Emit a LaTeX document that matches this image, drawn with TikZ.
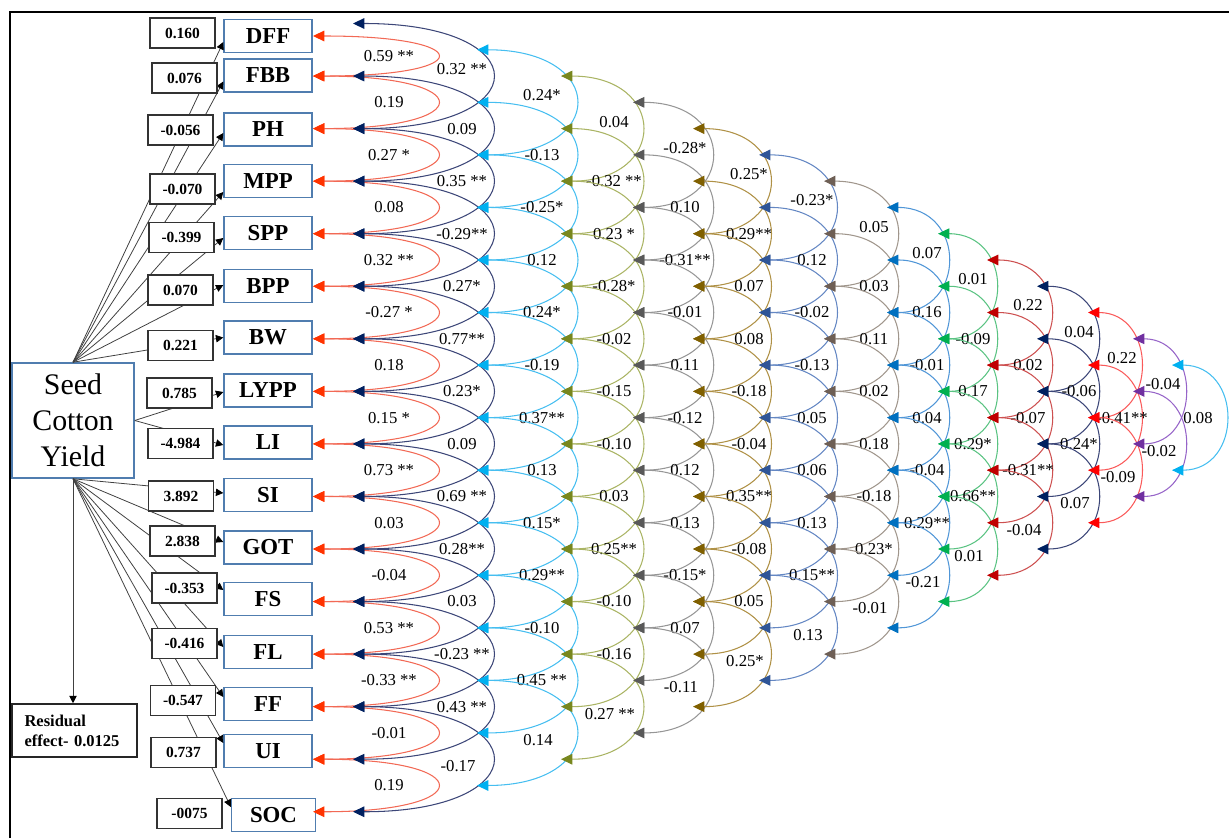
\documentclass[tikz,border=0pt]{standalone}
\usepackage{fontspec}
\setmainfont{Liberation Serif}
\usetikzlibrary{arrows.meta,calc}
\definecolor{boxblue}{RGB}{80,125,175}
\definecolor{L1}{RGB}{242,105,85}   \definecolor{T1}{RGB}{255,51,0}
\definecolor{L2}{RGB}{60,70,120}    \definecolor{T2}{RGB}{0,32,96}
\definecolor{L3}{RGB}{70,190,240}   \definecolor{T3}{RGB}{0,176,240}
\definecolor{L4}{RGB}{170,180,100}  \definecolor{T4}{RGB}{120,135,30}
\definecolor{L5}{RGB}{150,150,150}  \definecolor{T5}{RGB}{89,89,89}
\definecolor{L6}{RGB}{175,145,70}   \definecolor{T6}{RGB}{128,96,0}
\definecolor{L7}{RGB}{100,135,195}  \definecolor{T7}{RGB}{47,85,151}
\definecolor{L8}{RGB}{160,150,140}  \definecolor{T8}{RGB}{110,95,85}
\definecolor{L9}{RGB}{80,150,215}   \definecolor{T9}{RGB}{0,112,192}
\definecolor{L10}{RGB}{90,195,130}  \definecolor{T10}{RGB}{0,176,80}
\definecolor{L11}{RGB}{205,80,80}   \definecolor{T11}{RGB}{192,0,0}
\definecolor{L12}{RGB}{60,70,120}   \definecolor{T12}{RGB}{0,32,96}
\definecolor{L13}{RGB}{250,90,90}   \definecolor{T13}{RGB}{255,0,0}
\definecolor{L14}{RGB}{150,100,200} \definecolor{T14}{RGB}{112,48,160}
\definecolor{L15}{RGB}{70,190,240}  \definecolor{T15}{RGB}{0,176,240}
\tikzset{
  corr/.style={line width=0.6pt},
  lbl/.style={font=\fontsize{9.5}{11}\selectfont, inner sep=0pt},
  varbox/.style={draw=boxblue, line width=0.8pt, fill=white, minimum width=1.76cm,
    minimum height=0.66cm, inner sep=0pt, font=\fontsize{13}{15}\selectfont\bfseries},
  valbox/.style={draw=black!80, line width=0.6pt, fill=white, minimum width=1.3cm,
    minimum height=0.6cm, inner sep=0pt, font=\fontsize{8.8}{10}\selectfont\bfseries},
  link/.style={draw=black!75, line width=0.45pt, -{Triangle[length=4.2pt,width=4.2pt,color=black]}},
}
% #1 lag id, #2 tip x, #3 control offset, #4 label x offset, #5 start t0, #6 last index, #7 labels
\newcommand{\drawlag}[7]{%
  \foreach \lab [count=\jj from 0] in {#7} {%
    \pgfmathsetmacro\ya{23.5+52.55*(#5+\jj)}%
    \pgfmathsetmacro\yb{\ya+105.1}%
    \pgfmathsetmacro\ym{\ya+52.55+ifthenelse(\jj==0,-7,0)+ifthenelse(\jj==#6,7,0)}%
    \pgfmathsetmacro\xm{#2+#4+ifthenelse(\jj==#6,-4,0)}%
    \coordinate (k#1a\jj) at (#2,\ya);
    \coordinate (k#1b\jj) at (#2,\yb);
    \draw[corr,draw=L#1,{Triangle[length=6.4pt,width=6pt,color=T#1]}-{Triangle[length=6.4pt,width=6pt,color=T#1]}]
      (k#1a\jj) .. controls +(#3,0) and +(#3,0) .. (k#1b\jj);
    \node[lbl] (lab#1n\jj) at (\xm,\ym) {\lab};
  }%
}
\begin{document}
\begin{tikzpicture}[x=0.02cm,y=-0.02cm]
\useasboundingbox (0,0) rectangle (1229,838);
\draw[line width=1.4pt] (10,838) -- (10,12) -- (1229,12);

% main boxes
\node[draw=boxblue, line width=0.9pt, fill=white, minimum width=2.44cm, minimum height=2.3cm,
  align=center, inner sep=0pt, font=\fontsize{17}{20.5}\selectfont] (scy) at (73,420.5) {Seed\\Cotton\\Yield};
\node[draw=black!85, line width=0.9pt, fill=white, minimum width=2.5cm, minimum height=1.06cm,
  align=left, inner sep=0pt, text width=2.0cm, font=\fontsize{9.4}{11.3}\selectfont\bfseries]
  (res) at (74.5,730.5) {Residual\\effect- 0.0125};

% variable boxes
\foreach \nm/\yy in {DFF/36, FBB/75.5, PH/129.5, MPP/181, SPP/233, BPP/286, BW/337.5, LYPP/390.5,
  LI/442.5, SI/495, GOT/547.5, FS/599, FL/652, FF/704, UI/751}
  \node[varbox] (\nm) at (268,\yy) {\nm};
\node[varbox, minimum width=1.68cm] (SOC) at (273.5,815) {SOC};

% direct effect links
\foreach \nm/\dy in {DFF/6, FBB/6, PH/3.5, MPP/11, SPP/5, BPP/-1, BW/0}
  \draw[link] (scy.north) -- ($(\nm.west)+(0,\dy)$);
\foreach \nm/\dy in {LYPP/1.5, LI/2.5}
  \draw[link] (scy.east) -- ($(\nm.west)+(0,\dy)$);
\foreach \nm/\dy in {SI/-2, GOT/-5.5, FS/-9, FL/-5, FF/-7, UI/-8, SOC/-8}
  \draw[link] (scy.south) -- ($(\nm.west)+(0,\dy)$);
\draw[link] (scy.south) -- (scy.south |- res.north);

% value boxes
\foreach \nm/\xx/\yy/\v in {DFF/182.5/33/0.160, FBB/184.5/78/0.076, PH/180.5/130/-0.056,
  MPP/182.5/189/-0.070, SPP/181.5/237.5/-0.399, BPP/180.5/290/0.070, BW/180.5/345.5/0.221,
  LYPP/179.5/393/0.785, LI/180.5/443.5/-4.984, SI/181/496/3.892, GOT/182.5/541/2.838,
  FS/184.5/588/-0.353, FL/184.5/643.5/-0.416, FF/183/700.5/-0.547, UI/183.5/752.5/0.737,
  SOC/189.5/813.5/-0075}
  \node[valbox] (val\nm) at (\xx,\yy) {\v};

% lag 1 (red) arcs between adjacent boxes
\foreach \lab [count=\jj from 0] in {0.59 **, 0.19, 0.27 *, 0.08, 0.32 **, -0.27 *, 0.18, 0.15 *,
  0.73 **, 0.03, -0.04, 0.53 **, -0.33 **, -0.01, 0.19} {
  \pgfmathsetmacro\ya{ifthenelse(\jj==0,36,23.5+52.55*\jj)}
  \pgfmathsetmacro\yb{23.5+52.55*(\jj+1)}
  \pgfmathsetmacro\ym{(\ya+\yb)/2}
  \coordinate (k1a\jj) at (313,\ya);
  \coordinate (k1b\jj) at (313,\yb);
  \draw[corr,draw=L1,{Triangle[length=6.4pt,width=6pt,color=T1]}-{Triangle[length=6.4pt,width=6pt,color=T1]}]
    (k1a\jj) .. controls +(165,0) and +(165,0) .. (k1b\jj);
  \node[lbl] (lab1n\jj) at (389,\ym) {\lab};
}

\drawlag{2}{353}{185}{109}{0}{13}{0.32 **, 0.09, 0.35 **, -0.29**, 0.27*, 0.77**, 0.23*, 0.09, 0.69 **, 0.28**, 0.03, -0.23 **, 0.43 **, -0.17}
\drawlag{3}{477}{131}{65}{0.5}{12}{0.24*, -0.13, -0.25*, 0.12, 0.24*, -0.19, 0.37**, 0.13, 0.15*, 0.29**, -0.10, 0.45 **, 0.14}
\drawlag{4}{561}{107}{53}{1}{11}{0.04, -0.32 **, 0.23 *, -0.28*, -0.02, -0.15, -0.10, 0.03, 0.25**, -0.10, -0.16, 0.27 **}
\drawlag{5}{633}{104}{52}{1.5}{10}{-0.28*, 0.10, -0.31**, -0.01, 0.11, -0.12, 0.12, 0.13, -0.15*, 0.07, -0.11}
\drawlag{6}{693}{101}{56}{2}{9}{0.25*, 0.29**, 0.07, 0.08, -0.18, -0.04, 0.35**, -0.08, 0.05, 0.25*}
\drawlag{7}{759}{101}{53}{2.5}{8}{-0.23*, 0.12, -0.02, -0.13, 0.05, 0.06, 0.13, 0.15**, 0.13}
\drawlag{8}{824}{96}{50}{3}{7}{0.05, 0.03, 0.11, 0.02, 0.18, -0.18, 0.23*, -0.01}
\drawlag{9}{887}{80}{40}{3.5}{6}{0.07, 0.16, -0.01, 0.04, -0.04, 0.29**, -0.21}
\drawlag{10}{938}{76}{35}{4}{5}{0.01, -0.09, 0.17, 0.29*, 0.66**, 0.01}
\drawlag{11}{987}{84}{41}{4.5}{4}{0.22, 0.02, -0.07, -0.31**, -0.04}
\drawlag{12}{1037}{80}{42}{5}{3}{0.04, -0.06, 0.24*, 0.07}
\drawlag{13}{1088}{69}{34}{5.5}{2}{0.22, -0.41**, -0.09}
\drawlag{14}{1133}{68}{30}{6}{1}{-0.04, -0.02}
\drawlag{15}{1172}{71}{30}{6.5}{0}{0.08}
\end{tikzpicture}
\end{document}
